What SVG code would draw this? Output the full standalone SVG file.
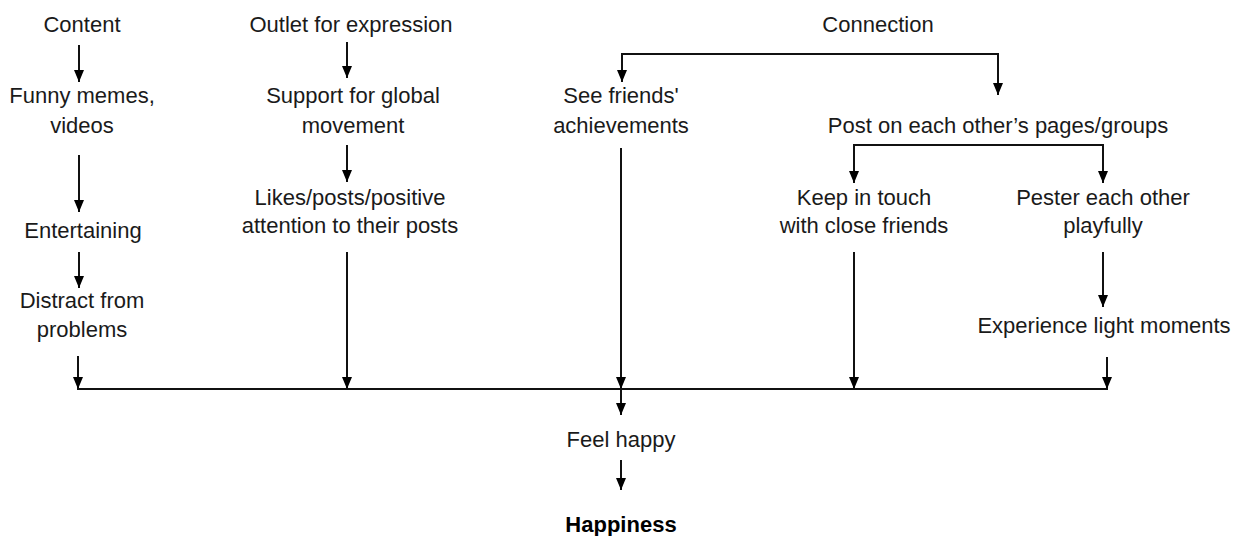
<svg xmlns="http://www.w3.org/2000/svg" width="1239" height="536" viewBox="0 0 1239 536">
  <style>
    .lbl { font-family: "Liberation Sans", Arial, sans-serif; font-size: 22px; fill: #1a1a1a; text-anchor: middle; }
    .bold { font-weight: bold; fill: #000; }
    .wire { stroke: #111; stroke-width: 2; fill: none; }
    .arrow { stroke: #111; stroke-width: 2; fill: none; marker-end: url(#head); }
  </style>
  <defs>
    <marker id="head" markerUnits="userSpaceOnUse" markerWidth="10" markerHeight="12" refX="5" refY="12" orient="0" viewBox="0 0 10 12">
      <path d="M0,0 L10,0 L5,12 z" fill="#000"/>
    </marker>
  </defs>

  <rect width="1239" height="536" fill="#fff"/>

  <!-- column: content -->
  <g id="content"><text class="lbl" x="82" y="32">Content</text></g>
  <g id="funny"><text class="lbl" x="82" y="103">Funny memes,</text><text class="lbl" x="82" y="133">videos</text></g>
  <g id="entertaining"><text class="lbl" x="83" y="238">Entertaining</text></g>
  <g id="distract"><text class="lbl" x="82" y="308">Distract from</text><text class="lbl" x="82" y="337">problems</text></g>

  <!-- column: expression -->
  <g id="outlet"><text class="lbl" x="351" y="32">Outlet for expression</text></g>
  <g id="support"><text class="lbl" x="353" y="103">Support for global</text><text class="lbl" x="353" y="133">movement</text></g>
  <g id="likes"><text class="lbl" x="350" y="205">Likes/posts/positive</text><text class="lbl" x="350" y="233">attention to their posts</text></g>

  <!-- column: connection -->
  <g id="connection"><text class="lbl" x="878" y="32">Connection</text></g>
  <g id="see-friends"><text class="lbl" x="621" y="103">See friends'</text><text class="lbl" x="621" y="133">achievements</text></g>
  <g id="post"><text class="lbl" x="998" y="133">Post on each other’s pages/groups</text></g>
  <g id="keep-touch"><text class="lbl" x="864" y="205">Keep in touch</text><text class="lbl" x="864" y="233">with close friends</text></g>
  <g id="pester"><text class="lbl" x="1103" y="205">Pester each other</text><text class="lbl" x="1103" y="233">playfully</text></g>
  <g id="light-moments"><text class="lbl" x="1104" y="333">Experience light moments</text></g>

  <!-- outcome -->
  <g id="feel-happy"><text class="lbl" x="621" y="447">Feel happy</text></g>
  <g id="happiness"><text class="lbl bold" x="621" y="532">Happiness</text></g>

  <g id="connectors">
    <!-- content chain -->
    <line class="arrow" x1="79" y1="45" x2="79" y2="82"/>
    <line class="arrow" x1="79" y1="155" x2="79" y2="212"/>
    <line class="arrow" x1="79" y1="252" x2="79" y2="288"/>
    <line class="arrow" x1="78" y1="356" x2="78" y2="389"/>

    <!-- expression chain -->
    <line class="arrow" x1="347" y1="42" x2="347" y2="78"/>
    <line class="arrow" x1="347" y1="145" x2="347" y2="182"/>
    <line class="arrow" x1="347" y1="252" x2="347" y2="389"/>

    <!-- connection split -->
    <line class="wire" x1="621" y1="54" x2="999" y2="54"/>
    <line class="arrow" x1="622" y1="54" x2="622" y2="82"/>
    <line class="arrow" x1="998" y1="54" x2="998" y2="95"/>
    <line class="arrow" x1="621" y1="148" x2="621" y2="389"/>

    <!-- post split -->
    <line class="wire" x1="853" y1="145" x2="1104" y2="145"/>
    <line class="arrow" x1="854" y1="145" x2="854" y2="183"/>
    <line class="arrow" x1="1103" y1="145" x2="1103" y2="183"/>
    <line class="arrow" x1="854" y1="252" x2="854" y2="389"/>
    <line class="arrow" x1="1103" y1="252" x2="1103" y2="307"/>
    <line class="arrow" x1="1107" y1="357" x2="1107" y2="389"/>

    <!-- gathering line -->
    <line class="wire" x1="77" y1="389" x2="1108" y2="389" stroke="#333"/>
    <line class="arrow" x1="621" y1="389" x2="621" y2="415"/>
    <line class="arrow" x1="621" y1="460" x2="621" y2="490"/>
  </g>
</svg>
